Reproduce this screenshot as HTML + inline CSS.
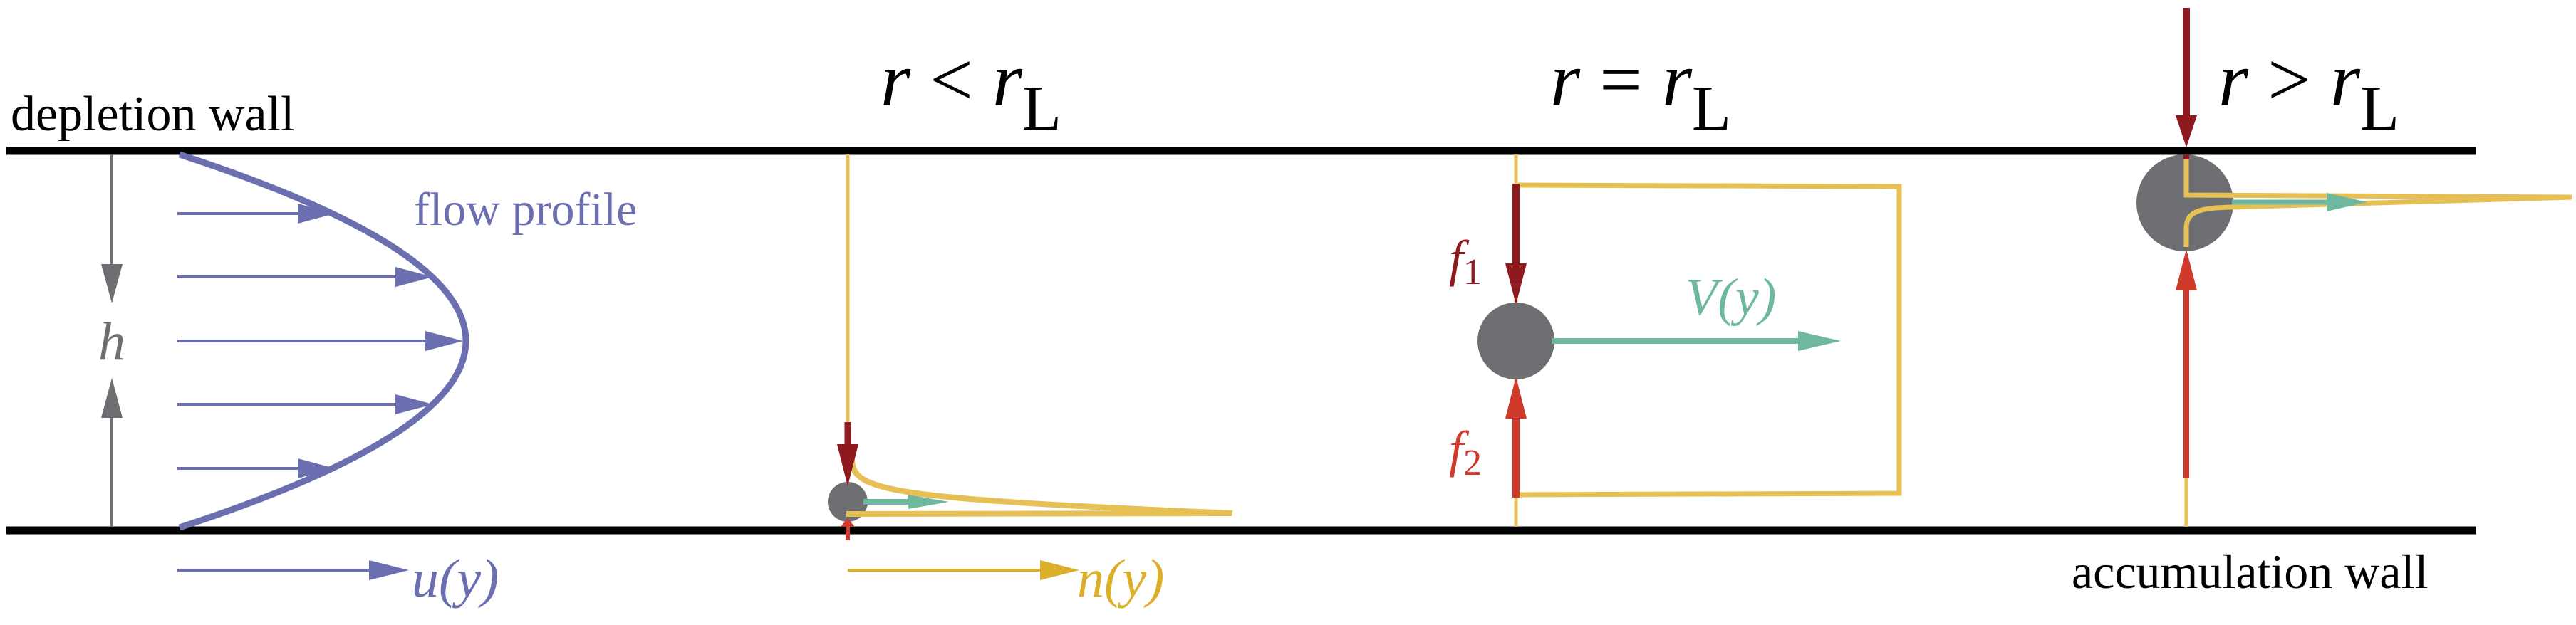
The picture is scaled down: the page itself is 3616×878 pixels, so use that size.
<!DOCTYPE html>
<html><head><meta charset="utf-8"><style>
html,body{margin:0;padding:0;background:#fff;}
svg{display:block;}
svg text{font-family:"Liberation Serif",serif !important;}
</style></head><body>
<svg width="3616" height="878" viewBox="0 0 3616 878" xmlns="http://www.w3.org/2000/svg" font-family="Liberation Serif, serif">
<!-- walls -->
<line x1="9" y1="212" x2="3476" y2="212" stroke="#000" stroke-width="11"/>
<line x1="9" y1="745" x2="3476" y2="745" stroke="#000" stroke-width="11"/>
<text x="15" y="183" font-size="70" font-family="Liberation Serif, serif">depletion wall</text>
<text x="2908" y="826" font-size="68" font-family="Liberation Serif, serif">accumulation wall</text>

<!-- h arrows -->
<line x1="157" y1="217" x2="157" y2="380" stroke="#6e6f73" stroke-width="4"/>
<polygon points="142,371 172,371 157,426" fill="#6e6f73"/>
<line x1="157" y1="740" x2="157" y2="580" stroke="#6e6f73" stroke-width="4"/>
<polygon points="142,587 172,587 157,531" fill="#6e6f73"/>
<text x="157" y="505" font-size="76" font-style="italic" fill="#6e6f73" text-anchor="middle" font-family="Liberation Serif, serif">h</text>

<!-- flow profile -->
<path d="M252,217 Q1056,479 252,741" fill="none" stroke="#6b6fb0" stroke-width="9"/>
<g stroke="#6b6fb0" stroke-width="4" fill="#6b6fb0">
<line x1="249" y1="300" x2="425" y2="300"/><polygon points="418,286 418,314 470,300" stroke="none"/>
<line x1="249" y1="389" x2="560" y2="389"/><polygon points="555,375 555,403 608,389" stroke="none"/>
<line x1="249" y1="479" x2="600" y2="479"/><polygon points="597,465 597,493 650,479" stroke="none"/>
<line x1="249" y1="568" x2="560" y2="568"/><polygon points="555,554 555,582 608,568" stroke="none"/>
<line x1="249" y1="658" x2="425" y2="658"/><polygon points="418,644 418,672 470,658" stroke="none"/>
<line x1="249" y1="801" x2="525" y2="801"/><polygon points="518,787 518,815 574,801" stroke="none"/>
</g>
<text x="581" y="316" font-size="66" fill="#6b6fb0" font-family="Liberation Serif, serif">flow profile</text>
<text x="578" y="838" font-size="76" font-style="italic" fill="#6b6fb0" font-family="Liberation Serif, serif">u(y)</text>

<!-- titles -->
<text x="1236" y="148" font-size="108" font-style="italic" font-family="Liberation Serif, serif">r <tspan font-style="normal">&lt;</tspan> r<tspan font-style="normal" font-size="90" dy="34">L</tspan></text>
<text x="2176" y="148" font-size="108" font-style="italic" font-family="Liberation Serif, serif">r <tspan font-style="normal">=</tspan> r<tspan font-style="normal" font-size="90" dy="34">L</tspan></text>
<text x="3114" y="148" font-size="108" font-style="italic" font-family="Liberation Serif, serif">r <tspan font-style="normal">&gt;</tspan> r<tspan font-style="normal" font-size="90" dy="34">L</tspan></text>

<!-- left particle -->
<line x1="1190" y1="217" x2="1190" y2="600" stroke="#e6bf55" stroke-width="5"/>
<circle cx="1190" cy="705" r="28" fill="#6e6f73"/>
<path d="M1196,644 C1196,690 1240,700 1730,721" fill="none" stroke="#e6bf55" stroke-width="8"/>
<path d="M1188,722 L1730,721" fill="none" stroke="#e6bf55" stroke-width="8"/>
<line x1="1190" y1="593" x2="1190" y2="640" stroke="#8e1a1f" stroke-width="9"/>
<polygon points="1175,624 1205,624 1190,683" fill="#8e1a1f"/>
<line x1="1212" y1="705" x2="1300" y2="705" stroke="#6db89e" stroke-width="8"/>
<polygon points="1275,695 1275,715 1332,705" fill="#6db89e"/>
<line x1="1190" y1="740" x2="1190" y2="759" stroke="#cf3a2b" stroke-width="6"/>
<polygon points="1180,740 1200,740 1190,728" fill="#cf3a2b"/>
<line x1="1190" y1="801" x2="1470" y2="801" stroke="#dcaf2a" stroke-width="4"/>
<polygon points="1460,787 1460,815 1515,801" fill="#dcaf2a"/>
<text x="1512" y="838" font-size="76" font-style="italic" fill="#dcaf2a" font-family="Liberation Serif, serif">n(y)</text>

<!-- middle particle -->
<line x1="2128" y1="217" x2="2128" y2="740" stroke="#e6bf55" stroke-width="5"/>
<polyline points="2128,260 2666,262 2666,693 2128,695" fill="none" stroke="#e6bf55" stroke-width="7"/>
<line x1="2128" y1="258" x2="2128" y2="380" stroke="#8e1a1f" stroke-width="10"/>
<polygon points="2113,370 2143,370 2128,428" fill="#8e1a1f"/>
<line x1="2128" y1="699" x2="2128" y2="580" stroke="#cf3a2b" stroke-width="10"/>
<polygon points="2113,588 2143,588 2128,529" fill="#cf3a2b"/>
<circle cx="2128" cy="479" r="54" fill="#6e6f73"/>
<line x1="2178" y1="479" x2="2530" y2="479" stroke="#6db89e" stroke-width="8"/>
<polygon points="2524,465 2524,493 2584,479" fill="#6db89e"/>
<text x="2034" y="387" font-size="72" font-style="italic" fill="#8e1a1f" font-family="Liberation Serif, serif">f<tspan font-style="normal" font-size="52" dy="12">1</tspan></text>
<text x="2034" y="655" font-size="72" font-style="italic" fill="#cf3a2b" font-family="Liberation Serif, serif">f<tspan font-style="normal" font-size="52" dy="12">2</tspan></text>
<text x="2366" y="442" font-size="74" font-style="italic" fill="#6db89e" font-family="Liberation Serif, serif">V(y)</text>

<!-- right particle -->
<line x1="3069" y1="11" x2="3069" y2="170" stroke="#8e1a1f" stroke-width="10"/>
<polygon points="3054,162 3084,162 3069,207" fill="#8e1a1f"/>
<circle cx="3067" cy="285" r="68" fill="#6e6f73"/>
<line x1="3069" y1="672" x2="3069" y2="740" stroke="#e6bf55" stroke-width="5"/>
<line x1="3069" y1="672" x2="3069" y2="400" stroke="#cf3a2b" stroke-width="8"/>
<polygon points="3054,408 3084,408 3069,350" fill="#cf3a2b"/>
<line x1="3069" y1="217" x2="3069" y2="224" stroke="#8e1a1f" stroke-width="8"/>
<polyline points="3069,224 3069,274 3610,277" fill="none" stroke="#e6bf55" stroke-width="7"/>
<path d="M3069,347 L3069,320 C3069,296 3090,292 3133,291 L3610,277" fill="none" stroke="#e6bf55" stroke-width="7"/>
<line x1="3133" y1="284" x2="3300" y2="284" stroke="#6db89e" stroke-width="7"/>
<polygon points="3266,271 3266,297 3323,284" fill="#6db89e"/>
</svg>
</body></html>
